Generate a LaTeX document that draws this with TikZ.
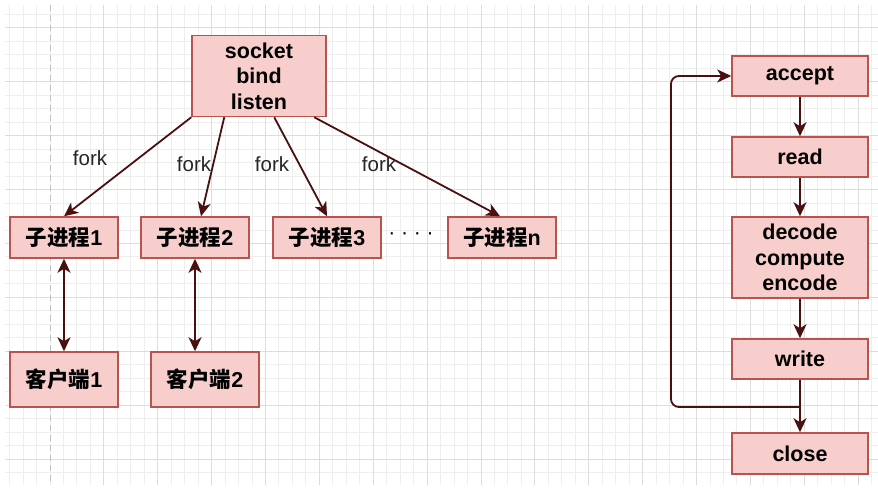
\documentclass[tikz,border=0pt]{standalone}
\usepackage{fontspec}
\setmainfont{Liberation Sans}
\newfontfamily\cjk{Noto Sans CJK SC}
\usetikzlibrary{arrows.meta,calc}
\definecolor{boxfill}{HTML}{F8CECC}
\definecolor{boxline}{HTML}{B85450}
\definecolor{arrc}{HTML}{4A1010}
\definecolor{gridmin}{HTML}{EEEEEE}
\definecolor{gridmaj}{HTML}{DDDDDD}
\definecolor{pageline}{HTML}{C0C0C0}
\tikzset{
  box/.style={draw=boxline, fill=boxfill, line width=1.5pt, inner sep=0pt, align=center,
    font=\fontsize{21.5}{25.5}\selectfont\bfseries, text=black},
  arr/.style={draw=arrc, line width=1.8pt, -{Stealth[length=14pt,width=13pt,inset=4pt]}},
  darr/.style={draw=arrc, line width=1.8pt, {Stealth[length=14pt,width=13pt,inset=4pt]}-{Stealth[length=14pt,width=13pt,inset=4pt]}},
  lbl/.style={font=\fontsize{20.5}{24}\selectfont, text=black!85, inner sep=0pt},
}
\begin{document}
\begin{tikzpicture}[x=1pt,y=-1pt]
\useasboundingbox (0,0) rectangle (878,492);
\fill[white] (0,0) rectangle (878,492);
\begin{scope}
\clip (5,5) rectangle (878,485);
\foreach \k in {-3,...,61} \draw[gridmin, line width=1pt] ({50+13.47*\k},5) -- ({50+13.47*\k},485);
\foreach \k in {-1,...,33} \draw[gridmin, line width=1pt] (5,{28+13.47*\k}) -- (878,{28+13.47*\k});
\foreach \m in {1,...,15} \draw[gridmaj, line width=1pt] ({50+53.88*\m},5) -- ({50+53.88*\m},485);
\foreach \m in {0,...,8} \draw[gridmaj, line width=1pt] (5,{28+53.88*\m}) -- (878,{28+53.88*\m});
\draw[pageline, line width=1pt, dash pattern=on 6pt off 4pt] (50,5) -- (50,485);
\end{scope}

% left part
\node[box, minimum width=134pt, minimum height=81pt] (sock) at (259,76) {socket\\bind\\listen};
\node[box, minimum width=108pt, minimum height=41pt] (p1) at (64,237.5) {{\cjk 子进程}1};
\node[box, minimum width=108pt, minimum height=41pt] (p2) at (195,237.5) {{\cjk 子进程}2};
\node[box, minimum width=108pt, minimum height=41pt] (p3) at (327,237.5) {{\cjk 子进程}3};
\node[box, minimum width=108pt, minimum height=41pt] (pn) at (502,237.5) {{\cjk 子进程}n};
\node[box, minimum width=108pt, minimum height=55pt] (c1) at (64,379.5) {{\cjk 客户端}1};
\node[box, minimum width=108pt, minimum height=55pt] (c2) at (205,379.5) {{\cjk 客户端}2};
\node[font=\fontsize{21}{24}\selectfont, inner sep=0pt] (dots) at (411,236) {· · · ·};

\draw[arr] (sock.south west) -- (p1.north);
\draw[arr] ([xshift=33pt]sock.south west) -- ([xshift=6pt]p2.north);
\draw[arr] ([xshift=83pt]sock.south west) -- (p3.north);
\draw[arr] ([xshift=123pt]sock.south west) -- ([xshift=-2pt]pn.north);

\node[lbl] (f1) at (90,158) {fork};
\node[lbl] (f2) at (194,164) {fork};
\node[lbl] (f3) at (272,164) {fork};
\node[lbl] (f4) at (379,164) {fork};

\draw[darr] (p1.south) -- (c1.north);
\draw[darr] (p2.south) -- (p2.south |- c2.north);

% right part
\node[box, minimum width=136pt, minimum height=40pt] (acc) at (800,76) {accept};
\node[box, minimum width=136pt, minimum height=40pt] (rd) at (800,157) {read};
\node[box, minimum width=136pt, minimum height=81pt] (dec) at (800,257.5) {decode\\compute\\encode};
\node[box, minimum width=136pt, minimum height=40pt] (wr) at (800,359) {write};
\node[box, minimum width=136pt, minimum height=41pt] (cl) at (800,453.5) {close};

\draw[arr] (acc.south) -- (rd.north);
\draw[arr] (rd.south) -- (dec.north);
\draw[arr] (dec.south) -- (wr.north);
\draw[arr] (wr.south) -- (cl.north);
\coordinate (lp) at (671,407);
\draw[arr, rounded corners=8pt] (wr.south |- lp) -- (lp) -- (lp |- acc.west) -- (acc.west);
\end{tikzpicture}
\end{document}
